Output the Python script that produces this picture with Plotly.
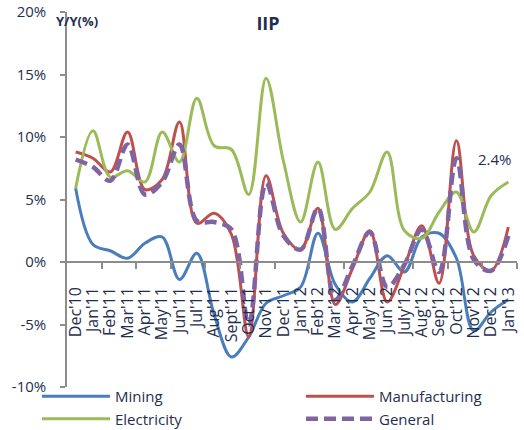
import plotly.graph_objects as go

months = ["Dec'10", "Jan'11", "Feb'11", "Mar'11", "Apr'11", "May'11", "Jun'11", "Jul'11",
          "Aug'11", "Sept'11", "Oct'11", "Nov'11", "Dec'11", "Jan'12", "Feb'12", "Mar'12",
          "Apr'12", "May'12", "Jun'12", "July'12", "Aug'12", "Sep'12", "Oct'12", "Nov'12",
          "Dec'12", "Jan'13"]

mining = [5.9, 1.4, 0.9, 0.3, 1.5, 2.0, -1.4, 0.7, -4.2, -7.6, -6.0, -3.3, -2.7, -2.0,
          2.3, -1.8, -3.2, -1.3, 0.5, -0.8, 2.0, 2.3, 0.3, -5.5, -4.0, -3.0]
manufacturing = [8.8, 8.3, 7.2, 10.4, 5.8, 6.6, 11.2, 3.1, 3.9, 2.2, -6.0, 6.9, 2.3, 1.0,
                 4.3, -3.4, -0.5, 2.5, -3.2, -0.3, 2.9, -1.7, 9.7, 0.5, -0.7, 2.8]
electricity = [5.9, 10.5, 6.8, 7.3, 6.4, 10.4, 8.0, 13.1, 9.3, 9.0, 5.4, 14.7, 8.1, 3.2,
               8.0, 2.6, 4.3, 5.6, 8.8, 2.5, 1.9, 4.0, 5.6, 2.4, 5.3, 6.4]
general = [8.2, 7.6, 6.5, 9.4, 5.4, 6.4, 9.4, 3.3, 3.2, 2.6, -5.0, 6.3, 2.1, 1.0,
           4.3, -3.0, -0.3, 2.4, -2.0, -0.2, 2.6, -0.8, 8.3, 0.2, -0.7, 2.1]

y_ticks = [-10, -5, 0, 5, 10, 15, 20]

navy = "#1F2F4F"
axis_grey = "#8C8C8C"
xs = list(range(len(months)))

fig = go.Figure()
series = [
    ("Mining", mining, "#4A7EBB", "solid", 3, "legend"),
    ("Manufacturing", manufacturing, "#C0504D", "solid", 3, "legend2"),
    ("Electricity", electricity, "#9BBB59", "solid", 3, "legend"),
    ("General", general, "#8064A2", "12px,6px", 4.5, "legend2"),
]
for name, vals, col, dash, w, lg in series:
    fig.add_trace(go.Scatter(
        x=xs, y=vals, name=name, mode="lines", legend=lg,
        line=dict(color=col, width=w, dash=dash, shape="spline", smoothing=1),
    ))

fig.add_annotation(x=(495 - 67) / 450, y=(387 - 159) / 375, xref="paper", yref="paper",
                   text="2.4%", showarrow=False, xanchor="center", yanchor="middle",
                   font=dict(size=15, color=navy))
fig.add_annotation(x=(54 - 67) / 450, y=(387 - 21) / 375, xref="paper", yref="paper",
                   text="<b>Y/Y(%)</b>", showarrow=False, xanchor="left", yanchor="middle",
                   font=dict(size=13, color=navy))

legend_common = dict(orientation="v", yanchor="top", xanchor="left", tracegroupgap=0,
                     itemwidth=68, font=dict(size=15, color=navy),
                     bgcolor="rgba(0,0,0,0)")

fig.update_layout(
    width=524, height=430,
    margin=dict(l=67, r=7, t=12, b=43, autoexpand=False),
    paper_bgcolor="white", plot_bgcolor="white",
    font=dict(family="Open Sans", color=navy),
    title=dict(text="<b>IIP</b>", x=268 / 524, xanchor="center", y=1 - 24 / 430,
               yanchor="middle", font=dict(size=18, color=navy)),
    showlegend=True,
    legend=dict(x=(37 - 67) / 450, y=(387 - 380) / 375, **legend_common),
    legend2=dict(x=(301 - 67) / 450, y=(387 - 380) / 375, **legend_common),
    xaxis=dict(
        range=[-0.5, 25.5], anchor="free", position=1 / 3,
        tickmode="array", tickvals=xs, ticktext=months, tickangle=-90,
        ticks="", showgrid=False, zeroline=False, ticklabelstandoff=18,
        showline=True, linecolor=axis_grey, linewidth=1.5,
        tickfont=dict(size=16, color=navy),
        minor=dict(tickmode="array", tickvals=[1.5 + 2 * k for k in range(13)],
                   ticks="outside", ticklen=6, tickcolor=axis_grey, tickwidth=1.5),
    ),
    yaxis=dict(
        range=[-10, 20], tickmode="array", tickvals=y_ticks,
        ticktext=[f"{v}%" for v in y_ticks], ticks="outside", ticklen=5,
        tickcolor=axis_grey, tickwidth=1.5, ticklabelstandoff=11,
        showgrid=False, zeroline=False, showline=True, linecolor=axis_grey, linewidth=1.5,
        tickfont=dict(size=15, color=navy),
    ),
)

fig.write_html("out.html", include_plotlyjs=True,
               config={"displayModeBar": False},
               post_script="document.body.style.margin='0px';")
